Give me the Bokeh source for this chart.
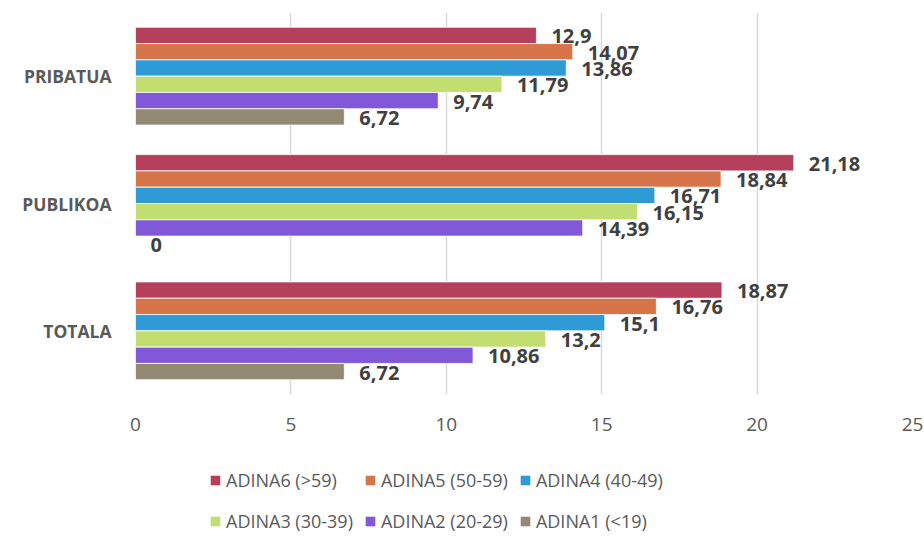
from bokeh.plotting import figure
from bokeh.layouts import column
from bokeh.models import ColumnDataSource, FactorRange, Legend, LegendItem
from bokeh.transform import dodge
from bokeh.core.properties import value
from bokeh.embed import file_html
from bokeh.resources import INLINE

categories = ["TOTALA", "PUBLIKOA", "PRIBATUA"]
series_names = ["ADINA6 (>59)", "ADINA5 (50-59)", "ADINA4 (40-49)",
                "ADINA3 (30-39)", "ADINA2 (20-29)", "ADINA1 (<19)"]
adina6 = [18.87, 21.18, 12.9]
adina5 = [16.76, 18.84, 14.07]
adina4 = [15.1, 16.71, 13.86]
adina3 = [13.2, 16.15, 11.79]
adina2 = [10.86, 14.39, 9.74]
adina1 = [6.72, 0, 6.72]
series_values = [adina6, adina5, adina4, adina3, adina2, adina1]
colors = ["#B4405C", "#D6754A", "#2E9BD6", "#C2DE70", "#8158D8", "#928A73"]
x_ticks = [0, 5, 10, 15, 20, 25]

FONT = "Open Sans"
BAR_H = 0.128

p = figure(width=924, height=446, y_range=FactorRange(*categories),
           x_range=(0, 25), output_backend="svg", toolbar_location=None,
           min_border_left=135, min_border_right=12, min_border_top=12,
           min_border_bottom=52)
p.outline_line_color = None
p.background_fill_color = "white"
p.border_fill_color = "white"

# legend-only figure below the chart
pl = figure(width=924, height=90, x_range=(0, 1), y_range=(0, 1),
            output_backend="svg", toolbar_location=None, min_border=0)
pl.axis.visible = False
pl.grid.grid_line_color = None
pl.outline_line_color = None

items = []
n = len(series_names)
for i, (name, vals, col) in enumerate(zip(series_names, series_values, colors)):
    off = ((n - 1) / 2 - i) * BAR_H
    src = ColumnDataSource(dict(
        cat=categories, val=vals,
        lab=[f"{v:g}".replace(".", ",") for v in vals]))
    p.hbar(y=dodge("cat", off, range=p.y_range), right="val", left=0,
           height=BAR_H, source=src, fill_color=col,
           line_color="white", line_width=0.8)
    p.text(x="val", y=dodge("cat", off, range=p.y_range), text="lab",
           source=src, x_offset=15, y_offset=1, text_align="left",
           text_baseline="middle", text_font=value(FONT),
           text_font_style="bold", text_font_size="20px",
           text_color="#404040")
    lr = pl.hbar(y=[-10], right=[1], left=0, height=0.1, fill_color=col,
                 line_color=None)
    items.append(LegendItem(label=name, renderers=[lr]))

p.xaxis.ticker = x_ticks
p.xaxis.axis_line_color = None
p.xaxis.major_tick_line_color = None
p.xaxis.minor_tick_line_color = None
p.xaxis.major_label_standoff = 17
p.xaxis.major_label_text_font = FONT
p.xaxis.major_label_text_font_size = "19px"
p.xaxis.major_label_text_color = "#595959"

p.yaxis.axis_line_color = None
p.yaxis.major_tick_line_color = None
p.yaxis.minor_tick_line_color = None
p.yaxis.major_label_standoff = 18
p.yaxis.major_label_text_font = FONT
p.yaxis.major_label_text_font_style = "bold"
p.yaxis.major_label_text_font_size = "17.5px"
p.yaxis.major_label_text_color = "#595959"

p.ygrid.grid_line_color = None
p.xgrid.grid_line_color = "#D9D9D9"
p.xgrid.grid_line_width = 1.5

legend = Legend(items=items, orientation="horizontal", nrows=2,
                location=(74, 0), padding=0, margin=0, spacing=11,
                glyph_width=12, glyph_height=12, label_standoff=5,
                label_height=30, label_text_font=FONT,
                label_text_font_size="18px", label_text_color="#595959",
                border_line_color=None, background_fill_alpha=0)
pl.add_layout(legend, "center")

layout = column(p, pl, spacing=0)
open("out.html", "w").write(file_html(layout, INLINE))
